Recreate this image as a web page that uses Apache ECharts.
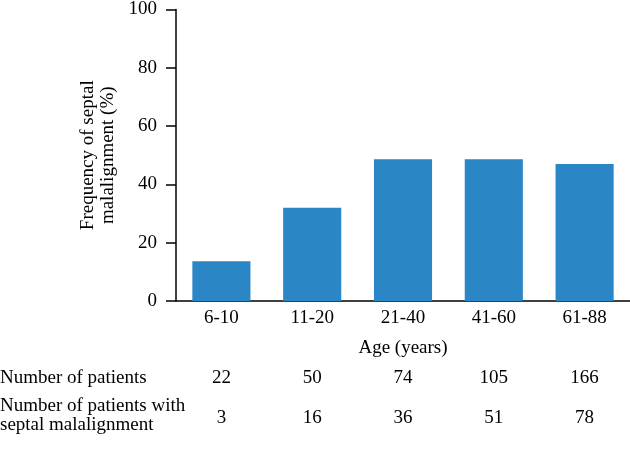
<!DOCTYPE html>
<html><head><meta charset="utf-8">
<script src="https://cdn.jsdelivr.net/npm/echarts@6/dist/echarts.min.js"></script>
<style>html,body{margin:0;padding:0;background:#fff}#c{width:630px;height:460px}</style>
</head><body><div id="c"></div>
<script>
const categories = ['6-10','11-20','21-40','41-60','61-88'];
const frequency = [13.6, 32.0, 48.6, 48.6, 47.0];
const patients = ['22','50','74','105','166'];
const withMalalignment = ['3','16','36','51','78'];
const yTicks = [0, 20, 40, 60, 80, 100];

const FONT = 'Liberation Serif';
const FS = 19;
const chart = echarts.init(document.getElementById('c'));
const hiddenAxis = (data, offset) => ({
  type: 'category', data: data, position: 'bottom', offset: offset, gridIndex: 0,
  axisLine: {show: false}, axisTick: {show: false},
  axisLabel: {color: '#000', fontFamily: FONT, fontSize: FS, margin: 8}
});
chart.setOption({
  animation: false,
  textStyle: {fontFamily: FONT},
  grid: {left: 176, right: 0, top: 9, bottom: 159},
  xAxis: [
    {type: 'category', data: categories,
     axisLine: {lineStyle: {color: '#000', width: 1.5}}, axisTick: {show: false},
     axisLabel: {color: '#000', fontFamily: FONT, fontSize: FS, margin: 8},
     name: 'Age (years)', nameLocation: 'middle', nameGap: 38,
     nameTextStyle: {color: '#000', fontFamily: FONT, fontSize: FS}},
    hiddenAxis(patients, 60),
    hiddenAxis(withMalalignment, 100)
  ],
  yAxis: {type: 'value', min: yTicks[0], max: yTicks[yTicks.length-1], interval: 20,
    axisLine: {show: true, lineStyle: {color: '#000', width: 1.5}},
    axisTick: {show: true, length: 10, lineStyle: {color: '#000', width: 1.5}},
    axisLabel: {color: '#000', fontFamily: FONT, fontSize: FS, margin: 19},
    splitLine: {show: false},
    name: 'Frequency of septal\nmalalignment (%)', nameLocation: 'middle', nameGap: 58,
    nameTextStyle: {color: '#000', fontFamily: FONT, fontSize: FS, lineHeight: 20}},
  series: [{type: 'bar', data: frequency, barWidth: '64%',
    itemStyle: {color: '#2a86c4'}}],
  graphic: [
    {type: 'text', left: 0, top: 369, style: {text: 'Number of patients', font: FS + 'px "' + FONT + '"', fill: '#000'}},
    {type: 'text', left: 0, top: 397, style: {text: 'Number of patients with\nseptal malalignment', font: FS + 'px "' + FONT + '"', fill: '#000', lineHeight: 19}}
  ]
});
</script></body></html>
